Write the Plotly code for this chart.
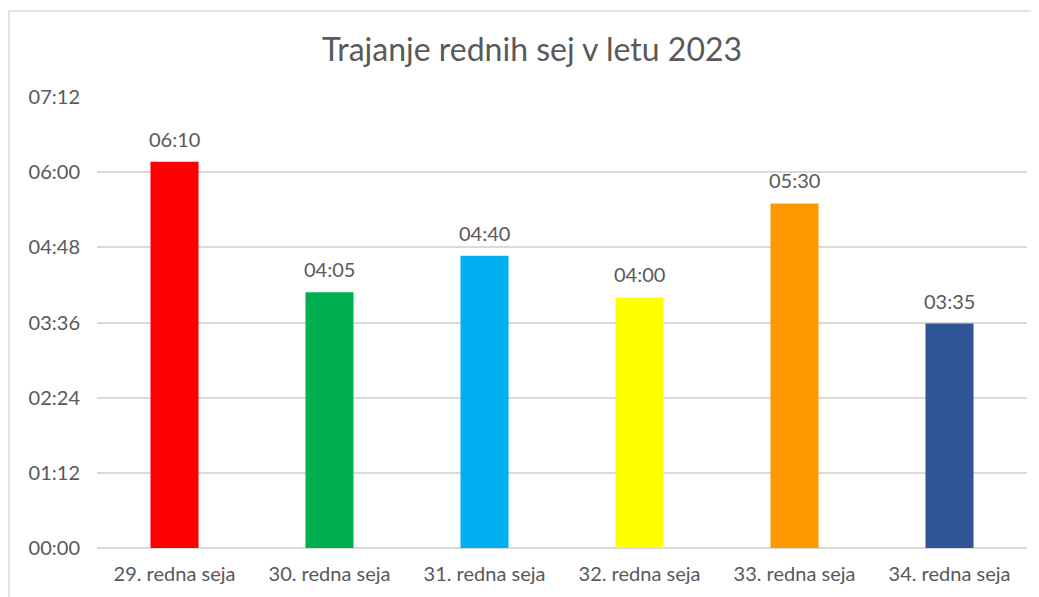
"""Trajanje rednih sej v letu 2023 - bar chart."""

import plotly.graph_objects as go

# data
sessions = ["29. redna seja", "30. redna seja", "31. redna seja",
            "32. redna seja", "33. redna seja", "34. redna seja"]
durations = ["06:10", "04:05", "04:40", "04:00", "05:30", "03:35"]
bar_colors = ["#FF0000", "#00B050", "#00B0F0", "#FFFF00", "#FF9900", "#2F5597"]
tick_labels = ["00:00", "01:12", "02:24", "03:36", "04:48", "06:00", "07:12"]


def to_minutes(hhmm: str) -> int:
    h, m = hhmm.split(":")
    return int(h) * 60 + int(m)


minutes = [to_minutes(d) for d in durations]
tick_vals = [to_minutes(t) for t in tick_labels]

GREY = "#595959"
FONT = "Lato, Carlito, Calibri, sans-serif"

# the page puts the figure 8px in from the top-left corner
W, H = 1031, 589

fig = go.Figure(go.Bar(
    x=sessions,
    y=minutes,
    marker=dict(color=bar_colors, line=dict(width=0)),
    hoverinfo="skip",
))

# value labels above the bars
for s, m, d in zip(sessions, minutes, durations):
    fig.add_annotation(
        x=s, y=m, text=d,
        showarrow=False,
        yanchor="bottom",
        yshift=9,
        font=dict(size=20, color=GREY, family=FONT),
    )

fig.update_layout(
    width=W,
    height=H,
    margin=dict(l=89, r=12, t=89, b=49),
    paper_bgcolor="white",
    plot_bgcolor="white",
    bargap=0.69,
    showlegend=False,
    font=dict(family=FONT, color=GREY, size=20),
    title=dict(
        text="Trajanje rednih sej v letu 2023",
        x=524 / W, xanchor="center",
        y=1 - 42 / H, yanchor="middle",
        font=dict(size=32, color=GREY, family=FONT),
    ),
    xaxis=dict(
        showline=False,
        showgrid=False,
        ticks="",
        ticklabelstandoff=12,
        tickfont=dict(size=20, color=GREY),
    ),
    yaxis=dict(
        range=[0, tick_vals[-1]],
        tickvals=tick_vals,
        ticktext=tick_labels,
        showgrid=True,
        gridcolor="#D9D9D9",
        gridwidth=1.5,
        zeroline=True,
        zerolinecolor="#D9D9D9",
        zerolinewidth=1.5,
        showline=False,
        ticks="",
        ticklabelstandoff=16,
        tickfont=dict(size=20, color=GREY),
    ),
)

# chart area border (Excel style)
plot_w, plot_h = W - 89 - 12, H - 89 - 49
fig.add_shape(
    type="rect", xref="paper", yref="paper",
    x0=(1 - 89) / plot_w, x1=1.05, y0=-0.2, y1=(H - 49 - 3) / plot_h,
    line=dict(color="#D9D9D9", width=1.5),
    layer="below",
)

fig.write_html("out.html")
